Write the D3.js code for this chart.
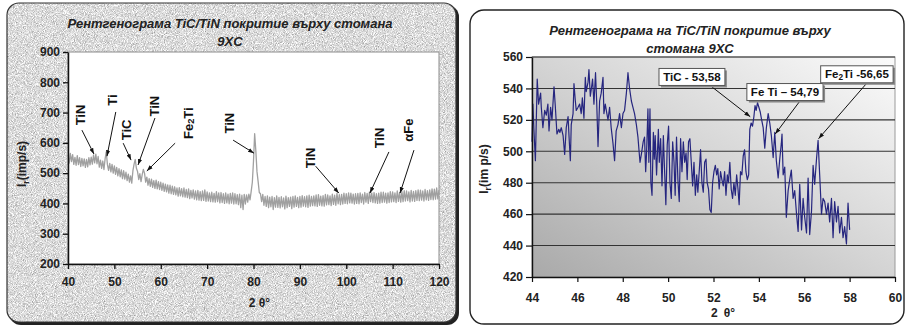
<!DOCTYPE html>
<html><head><meta charset="utf-8">
<script src="https://cdn.jsdelivr.net/npm/d3@7"></script>
<style>
html,body{margin:0;padding:0;background:#fff;}
svg{display:block;font-family:"Liberation Sans",Arial,sans-serif;}
</style></head><body>
<svg id="c" width="907" height="327"></svg>
<script>
// ---------- LEFT CHART DATA (2θ scan 40..120, step 0.25) ----------
const leftTitle = ["Рентгенограма TiC/TiN покритие върху стомана", "9XC"];
const leftStart = 40, leftStep = 0.25;
const leftIntensity = [
 560,533,565,538, 561,529,552,526, 558,528,551,522, 549,524,547,519, 545,521,551,527,
 553,530,560,534, 563,531,555,520, 543,516,540,512, 547,570,528,509, 532,504,529,500,
 524,496,519,491, 515,488,511,482, 508,480,503,475, 497,470,491,467, 508,530,545,516,
 505,479,498,472, 495,512,500,470, 487,460,482,456, 480,453,475,450, 477,448,472,446,
 470,443,467,440, 464,438,461,434, 460,432,457,430, 455,428,451,424, 452,425,449,422,
 451,421,446,419, 448,416,443,418, 445,414,441,412, 443,411,439,409, 441,410,445,407,
 438,408,435,406, 437,405,433,404, 439,406,435,402, 436,403,432,400, 435,402,431,399,
 433,401,435,398, 432,399,429,396, 431,386,427,380, 430,398,428,404, 431,412,440,470,
 540,630,575,505, 472,436,432,406, 430,394,423,390, 425,386,421,389, 423,380,419,388,
 425,387,420,385, 422,389,418,382, 424,386,419,390, 421,383,423,388, 425,390,420,386,
 423,388,426,391, 422,389,425,387, 427,391,423,393, 425,392,428,390, 429,394,424,392,
 426,391,430,395, 428,396,425,393, 431,397,427,394, 433,399,429,396, 430,398,434,400,
 432,399,435,402, 434,401,431,398, 432,400,433,399, 435,403,431,398, 436,404,433,400,
 438,406,435,403, 436,402,432,400, 434,401,437,403, 437,404,434,401, 435,403,439,405,
 438,406,435,403, 441,407,437,404, 439,406,442,408, 441,409,438,405, 443,408,440,407,
 442,410,445,409, 444,411,441,408, 446,412,442,410, 445,413,448,412, 447,414,451,415,
 444
];
const leftXTicks = [40,50,60,70,80,90,100,110,120];
const leftYTicks = [200,300,400,500,600,700,800,900];
// peak labels: text, label position (theta, I), arrow tail (theta, I), arrow tip (theta, I)
const leftPeakLabels = ["TiN","Ti","TiC","TiN","Fe2Ti","TiN","TiN","TiN","αFe"];
const leftLabelAt   = [[42.6,692],[49.5,741],[52.7,643],[58.75,721],[65.9,665],[74.9,665],[92.2,550],[107.2,616],[113.5,642]];
const leftArrowTail = [[43.0,642],[50.3,702],[51.9,599],[58.75,682],[63.1,599],[75.6,609],[93.4,523],[109.2,570],[114.6,576]];
const leftArrowTip  = [[45.6,563],[48.4,556],[53.6,543],[55.1,527],[57.0,507],[80.1,566],[98.4,434],[105.1,434],[111.6,434]];

// ---------- RIGHT CHART DATA ([2θ, I]) ----------
const rightTitle = ["Рентгенограма на TiC/TiN покритие върху", "стомана 9XC"];
const rightScan = [
 [44.00,506],[44.04,530],[44.08,515],[44.15,494],[44.23,546],[44.29,530],[44.38,537],[44.41,528],[44.48,515],[44.56,526],
 [44.63,523],[44.70,530],[44.75,513],[44.82,528],[44.88,520],[44.97,541],[45.03,528],[45.10,511],[45.18,514],[45.23,512],
 [45.29,515],[45.37,510],[45.44,498],[45.51,515],[45.59,522],[45.63,510],[45.69,494],[45.73,517],[45.81,524],[45.85,543],
 [45.91,532],[45.95,526],[46.03,528],[46.10,530],[46.17,524],[46.22,534],[46.29,521],[46.35,547],[46.39,538],[46.47,544],
 [46.51,552],[46.57,535],[46.61,539],[46.67,546],[46.73,530],[46.80,550],[46.85,532],[46.91,503],[46.98,532],[47.05,537],
 [47.13,547],[47.17,524],[47.23,530],[47.30,524],[47.35,520],[47.42,528],[47.49,515],[47.57,505],[47.64,494],[47.71,513],
 [47.79,517],[47.86,524],[47.94,515],[48.01,524],[48.08,526],[48.16,537],[48.23,550],[48.30,540],[48.38,532],[48.45,528],
 [48.52,524],[48.60,517],[48.67,509],[48.72,500],[48.76,493],[48.83,499],[48.90,506],[48.96,509],[49.01,487],[49.05,499],
 [49.11,527],[49.15,493],[49.20,527],[49.24,480],[49.29,472],[49.35,512],[49.39,495],[49.43,510],[49.49,485],[49.57,514],
 [49.61,493],[49.67,508],[49.73,478],[49.79,510],[49.84,489],[49.90,466],[49.96,504],[50.02,516],[50.08,480],[50.14,470],
 [50.20,506],[50.26,493],[50.31,472],[50.37,509],[50.43,482],[50.49,468],[50.55,508],[50.61,487],[50.67,506],[50.73,493],
 [50.79,499],[50.84,482],[50.90,506],[50.96,508],[51.02,493],[51.08,478],[51.14,493],[51.20,472],[51.26,485],[51.31,474],
 [51.37,487],[51.43,501],[51.49,480],[51.55,474],[51.61,493],[51.67,495],[51.72,480],[51.78,476],[51.84,463],[51.90,461],
 [51.96,480],[52.02,487],[52.08,491],[52.14,485],[52.19,489],[52.25,476],[52.31,487],[52.37,482],[52.43,478],[52.49,487],
 [52.55,472],[52.61,485],[52.66,480],[52.72,493],[52.78,476],[52.84,470],[52.90,480],[52.96,472],[53.02,485],[53.08,476],
 [53.13,466],[53.19,487],[53.25,485],[53.31,497],[53.37,501],[53.43,487],[53.49,482],[53.55,485],[53.60,514],[53.66,518],
 [53.72,516],[53.78,522],[53.83,529],[53.88,526],[53.94,531],[54.00,528],[54.06,525],[54.11,521],[54.19,515],[54.26,502],
 [54.33,515],[54.41,524],[54.48,518],[54.55,510],[54.63,496],[54.70,512],[54.77,494],[54.85,483],[54.92,495],[54.99,505],
 [55.02,511],[55.07,485],[55.14,490],[55.21,458],[55.29,475],[55.36,482],[55.43,488],[55.51,470],[55.58,475],[55.66,460],
 [55.73,449],[55.80,479],[55.88,450],[55.95,470],[56.02,458],[56.10,448],[56.17,483],[56.24,447],[56.32,462],[56.39,491],
 [56.46,479],[56.54,495],[56.61,507],[56.68,485],[56.76,460],[56.83,470],[56.90,468],[56.98,460],[57.05,467],[57.12,455],
 [57.20,470],[57.27,445],[57.34,468],[57.42,455],[57.49,465],[57.56,448],[57.64,458],[57.71,445],[57.78,452],[57.86,441],
 [57.93,467],[58.00,450]
];
const rightXTicks = [44,46,48,50,52,54,56,58,60];
const rightYTicks = [420,440,460,480,500,520,540,560];
const rightCallouts = ["TiC - 53,58","Fe Ti – 54,79","Fe2Ti -56,65"];
const rightCalloutAt   = [[51.05,547.3],[55.15,537.7],[58.32,549.0]];
const rightCalloutTail = [[51.93,541],[55.81,532],[58.76,543.4]];
const rightCalloutTip  = [[53.62,522],[54.72,511],[56.63,508]];

// ---------- DRAWING ----------
const svg = d3.select('#c');
const defs = svg.append('defs');

const flt = defs.append('filter').attr('id','granite').attr('x',0).attr('y',0).attr('width',1).attr('height',1)
  .attr('color-interpolation-filters','sRGB');
flt.append('feTurbulence').attr('type','fractalNoise').attr('baseFrequency',1.1).attr('numOctaves',3).attr('seed',5).attr('result','t');
flt.append('feColorMatrix').attr('in','t').attr('type','matrix')
  .attr('values','0.33 0.33 0.33 0 0  0.33 0.33 0.33 0 0  0.33 0.33 0.33 0 0  0 0 0 0 1').attr('result','g');
const ct = flt.append('feComponentTransfer').attr('in','g').attr('result','c');
['feFuncR','feFuncG','feFuncB'].forEach(n => ct.append(n).attr('type','linear').attr('slope',1.15).attr('intercept',0.29));
flt.append('feComposite').attr('in','c').attr('in2','SourceAlpha').attr('operator','in');

const grad = defs.append('linearGradient').attr('id','plotGrad')
  .attr('x1',0).attr('y1',1).attr('x2',1).attr('y2',0);
grad.append('stop').attr('offset',0).attr('stop-color','#a9a9a9');
grad.append('stop').attr('offset',0.5).attr('stop-color','#d4d4d4');
grad.append('stop').attr('offset',1).attr('stop-color','#fbfbfb');

defs.append('marker').attr('id','arr').attr('viewBox','0 0 10 10').attr('refX',10).attr('refY',5)
  .attr('markerWidth',6).attr('markerHeight',6).attr('orient','auto')
  .append('path').attr('d','M0,1.5 L10,5 L0,8.5 Z').attr('fill','#111');

function fmtText(sel, str, size) {
  const idx = str.indexOf('Fe2Ti');
  if (idx < 0) { sel.text(str); return; }
  sel.append('tspan').text(str.slice(0, idx) + 'Fe');
  sel.append('tspan').attr('font-size', size * 0.72).attr('dy', size * 0.25).text('2');
  sel.append('tspan').attr('dy', -size * 0.25).text('Ti' + str.slice(idx + 5));
}

// ===== LEFT PANEL =====
svg.append('rect').attr('x',9).attr('y',5).attr('width',450).attr('height',320).attr('rx',12).attr('fill','#222');
svg.append('rect').attr('x',7).attr('y',3).attr('width',449).attr('height',319).attr('rx',12)
  .attr('fill','#d8d8d8').attr('filter','url(#granite)');
svg.append('rect').attr('x',7).attr('y',3).attr('width',449).attr('height',319).attr('rx',12)
  .attr('fill','none').attr('stroke','#333').attr('stroke-width',1.2);

const xL = d3.scaleLinear().domain([40,120]).range([68,439]);
const yL = d3.scaleLinear().domain([200,900]).range([264,52]);
const gL = svg.append('g');
gL.append('rect').attr('x',xL(40)).attr('y',yL(900)).attr('width',xL(120)-xL(40)).attr('height',yL(200)-yL(900))
  .attr('fill','#fff').attr('stroke','#8c8c8c').attr('stroke-width',1);

const leftPts = leftIntensity.map((v,i) => [leftStart + i*leftStep, v]);
gL.append('path').datum(leftPts)
  .attr('d', d3.line().x(d => xL(d[0])).y(d => yL(d[1])))
  .attr('fill','none').attr('stroke','#a0a0a0').attr('stroke-width',1.3).attr('stroke-linejoin','round');

const axYL = gL.append('g').attr('transform',`translate(${xL(40)},0)`)
  .call(d3.axisLeft(yL).tickValues(leftYTicks).tickSize(5).tickSizeOuter(0).tickPadding(3));
const axXL = gL.append('g').attr('transform',`translate(0,${yL(200)})`)
  .call(d3.axisBottom(xL).tickValues(leftXTicks).tickSize(5).tickSizeOuter(0).tickPadding(8));
[axYL, axXL].forEach(a => {
  a.select('.domain').attr('stroke','#111').attr('stroke-width',1.5);
  a.selectAll('.tick line').attr('stroke','#111').attr('stroke-width',1.3);
  a.selectAll('.tick text').attr('font-size',12).attr('font-weight','bold').attr('fill','#222')
    .attr('font-family','"Liberation Sans",Arial,sans-serif');
});

leftTitle.forEach((t,i) => {
  gL.append('text').attr('x',230).attr('y',28 + i*18).attr('text-anchor','middle')
    .attr('font-size',13).attr('font-weight','bold').attr('font-style','italic').attr('fill','#222').text(t);
});
gL.append('text').attr('x',(xL(40)+xL(120))/2 + 6).attr('y',307).attr('text-anchor','middle')
  .attr('font-size',12).attr('font-weight','bold').attr('fill','#222').text('2 θ°');
const ylabL = gL.append('text').attr('transform',`translate(26,${(yL(200)+yL(900))/2 + 6}) rotate(-90)`)
  .attr('text-anchor','middle').attr('font-size',12).attr('font-weight','bold').attr('fill','#222');
ylabL.append('tspan').text('I');
ylabL.append('tspan').attr('font-size',9).attr('dy',3).text('r');
ylabL.append('tspan').attr('dy',-3).text('(imp/s)');

leftPeakLabels.forEach((lab,i) => {
  gL.append('line')
    .attr('x1',xL(leftArrowTail[i][0])).attr('y1',yL(leftArrowTail[i][1]))
    .attr('x2',xL(leftArrowTip[i][0])).attr('y2',yL(leftArrowTip[i][1]))
    .attr('stroke','#111').attr('stroke-width',1).attr('marker-end','url(#arr)');
  const t = gL.append('text')
    .attr('transform',`translate(${xL(leftLabelAt[i][0])},${yL(leftLabelAt[i][1])}) rotate(-90)`)
    .attr('text-anchor','middle').attr('dominant-baseline','central')
    .attr('font-size',13).attr('font-weight','bold').attr('fill','#111');
  fmtText(t, lab, 13);
});

// ===== RIGHT PANEL =====
svg.append('rect').attr('x',470).attr('y',10).attr('width',434).attr('height',314).attr('rx',14)
  .attr('fill','#fff').attr('stroke','#222').attr('stroke-width',1.4);

const xR = d3.scaleLinear().domain([44,60]).range([532,895]);
const yR = d3.scaleLinear().domain([420,560]).range([277,57]);
const gR = svg.append('g');
gR.append('rect').attr('x',xR(44)).attr('y',yR(560)).attr('width',xR(60)-xR(44)).attr('height',yR(420)-yR(560))
  .attr('fill','url(#plotGrad)').attr('stroke','#9a9a9a').attr('stroke-width',1);
gR.selectAll('.grid').data(rightYTicks.filter(v => v > 420)).enter().append('line')
  .attr('x1',xR(44)).attr('x2',xR(60)).attr('y1',d => yR(d)).attr('y2',d => yR(d))
  .attr('stroke','#333').attr('stroke-width',1.1);

gR.append('path').datum(rightScan)
  .attr('d', d3.line().x(d => xR(d[0])).y(d => yR(d[1])))
  .attr('fill','none').attr('stroke','#26267f').attr('stroke-width',1.2).attr('stroke-linejoin','round');

const axYR = gR.append('g').attr('transform',`translate(${xR(44)},0)`)
  .call(d3.axisLeft(yR).tickValues(rightYTicks).tickSize(6).tickSizeOuter(0).tickPadding(3));
const axXR = gR.append('g').attr('transform',`translate(0,${yR(420)})`)
  .call(d3.axisBottom(xR).tickValues(rightXTicks).tickSize(5).tickSizeOuter(0).tickPadding(11));
[axYR, axXR].forEach(a => {
  a.select('.domain').attr('stroke','#111').attr('stroke-width',1.4);
  a.selectAll('.tick line').attr('stroke','#111').attr('stroke-width',1.2);
  a.selectAll('.tick text').attr('font-size',12).attr('font-weight','bold').attr('fill','#222')
    .attr('font-family','"Liberation Sans",Arial,sans-serif');
});

rightTitle.forEach((t,i) => {
  gR.append('text').attr('x',690).attr('y',35 + i*18).attr('text-anchor','middle')
    .attr('font-size',13).attr('font-weight','bold').attr('font-style','italic').attr('fill','#222').text(t);
});
gR.append('text').attr('x',723).attr('y',317).attr('text-anchor','middle')
  .attr('font-size',12).attr('font-weight','bold').attr('fill','#222').text('2\u2002θ°');
const ylabR = gR.append('text').attr('transform',`translate(488,${(yR(420)+yR(560))/2 + 2}) rotate(-90)`)
  .attr('text-anchor','middle').attr('font-size',12).attr('font-weight','bold').attr('fill','#222');
ylabR.append('tspan').text('I');
ylabR.append('tspan').attr('font-size',9).attr('dy',3).text('r');
ylabR.append('tspan').attr('dy',-3).text('(im p/s)');

rightCallouts.forEach((lab,i) => {
  gR.append('line')
    .attr('x1',xR(rightCalloutTail[i][0])).attr('y1',yR(rightCalloutTail[i][1]))
    .attr('x2',xR(rightCalloutTip[i][0])).attr('y2',yR(rightCalloutTip[i][1]))
    .attr('stroke','#111').attr('stroke-width',1).attr('marker-end','url(#arr)');
  const cx = xR(rightCalloutAt[i][0]), cy = yR(rightCalloutAt[i][1]);
  const g = gR.append('g');
  const shadow = g.append('rect').attr('fill','#8a8a8a');
  const box = g.append('rect').attr('fill','#fff').attr('stroke','#555').attr('stroke-width',1);
  const t = g.append('text').attr('x',cx).attr('y',cy).attr('text-anchor','middle').attr('dominant-baseline','central')
    .attr('font-size',11.5).attr('font-weight','bold').attr('fill','#111');
  fmtText(t, lab, 11.5);
  const bb = t.node().getBBox();
  const w = bb.width + 8, h = 17;
  box.attr('x',cx - w/2).attr('y',cy - h/2).attr('width',w).attr('height',h);
  shadow.attr('x',cx - w/2 + 2).attr('y',cy - h/2 + 2).attr('width',w).attr('height',h);
});
</script>
</body></html>
